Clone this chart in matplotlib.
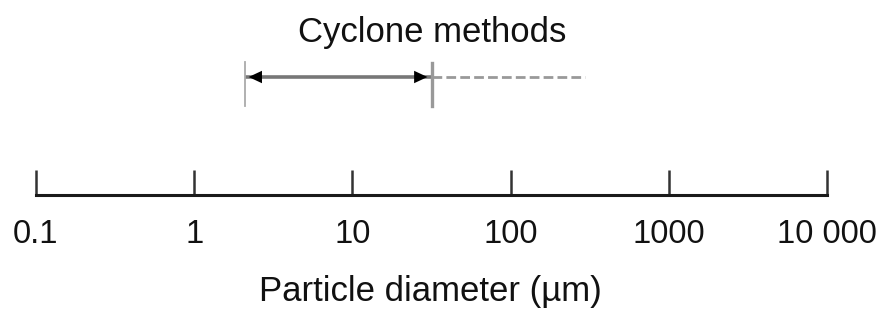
import matplotlib
matplotlib.use("Agg")
import matplotlib.pyplot as plt
from matplotlib.ticker import FixedLocator, FixedFormatter, NullLocator

# Data
tick_values = [0.1, 1, 10, 100, 1000, 10000]
tick_labels = ["0.1", "1", "10", "100", "1000", "10 000"]
cyclone_range = [2.1, 32]      # solid arrow range (µm)
cyclone_extension = [32, 295]  # dashed extension (µm)
title_text = "Cyclone methods"
xlabel_text = "Particle diameter (µm)"

plt.rcParams['font.family'] = ['Liberation Sans', 'DejaVu Sans']

W, H = 887, 325
fig = plt.figure(figsize=(W / 100, H / 100), dpi=100)
left_px, right_px = 36, 827
ax = fig.add_axes([left_px / W, 0, (right_px - left_px) / W, 1])
ax.set_xscale('log')
ax.set_xlim(tick_values[0], tick_values[-1])
ax.set_ylim(H, 0)  # y in pixel units from top

axis_y = 195
for s in ['left', 'right', 'top']:
    ax.spines[s].set_visible(False)
ax.spines['bottom'].set_position(('data', axis_y))
ax.spines['bottom'].set_linewidth(2.2)
ax.spines['bottom'].set_color('#1a1a1a')
ax.yaxis.set_visible(False)
ax.xaxis.set_major_locator(FixedLocator(tick_values))
ax.xaxis.set_major_formatter(FixedFormatter(tick_labels))
ax.xaxis.set_minor_locator(NullLocator())
ax.tick_params(axis='x', direction='in', length=18, width=1.8, color='#333333',
               labelsize=23.5, pad=17, labelcolor='#111111')
ax.patch.set_visible(False)

# Arrow row
arrow_y = 77
ax.plot(cyclone_range, [arrow_y, arrow_y], color='#777777', lw=2.6,
        solid_capstyle='butt', clip_on=False)
ax.plot(cyclone_extension, [arrow_y, arrow_y], color='#999999', lw=2.0,
        dashes=(3.5, 1.5), clip_on=False)
# end bars
ax.plot([cyclone_range[0]] * 2, [62, 106], color='#aaaaaa', lw=1.3, clip_on=False)
ax.plot([cyclone_range[1]] * 2, [63, 106], color='#999999', lw=2.4, clip_on=False)
# arrow heads
head = '-|>,head_length=0.6,head_width=0.28'
ax.annotate('', xy=(cyclone_range[0], arrow_y), xytext=(16, 0), textcoords='offset points',
            arrowprops=dict(arrowstyle=head, color='black', lw=0, mutation_scale=16,
                            shrinkA=0, shrinkB=2.5))
ax.annotate('', xy=(cyclone_range[1], arrow_y), xytext=(-16, 0), textcoords='offset points',
            arrowprops=dict(arrowstyle=head, color='black', lw=0, mutation_scale=16,
                            shrinkA=0, shrinkB=3.5))

fig.text(432 / W, 1 - 42 / H, title_text, ha='center', va='baseline',
         fontsize=25, color='#111111')
fig.text(430 / W, 1 - 301 / H, xlabel_text, ha='center', va='baseline',
         fontsize=25, color='#111111')

fig.savefig('out.png', dpi=100)
